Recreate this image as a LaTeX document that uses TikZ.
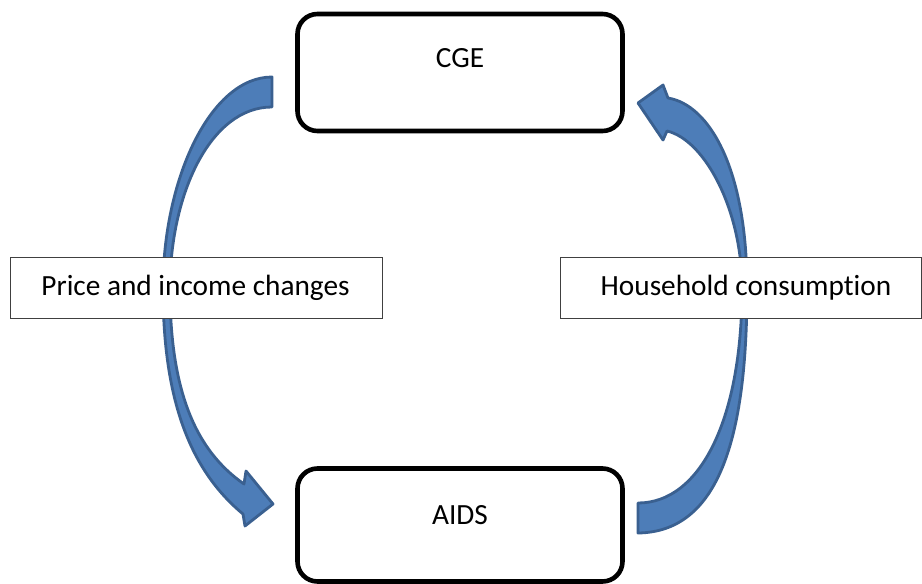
\documentclass[tikz,border=0pt]{standalone}
\usepackage{fontspec}
\setmainfont{Carlito}[Ligatures={NoCommon}]
\definecolor{arrowfill}{HTML}{4D7DB8}
\definecolor{arrowline}{HTML}{3A6090}
\begin{document}
\begin{tikzpicture}[x=1pt,y=-1pt,
  txt/.style={font=\fontsize{29.3pt}{35pt}\selectfont, inner sep=0pt, anchor=base},
  bigbox/.style={draw=black, line width=4.6pt, rounded corners=20pt, fill=white,
    minimum width=325pt, inner sep=0pt},
  labelbox/.style={draw=black!75, line width=1pt, fill=white, inner sep=0pt},
  blockarrow/.style={fill=arrowfill, draw=arrowline, line width=2.8pt, line join=round}]
\useasboundingbox (0,0) rectangle (922,584);
% boxes
\node[bigbox, minimum height=117pt] (cge) at (460,72.5) {};
\node[bigbox, minimum height=113pt] (aids) at (460,525) {};
\node[txt] (cgetext) at (460,67.5) {CGE};
\node[txt] (aidstext) at (460,524.5) {AIDS};
% curved block arrows
\draw[blockarrow] (272,77) .. controls (210,77) and (163,180) .. (163,288)
  .. controls (163,400) and (190,470) .. (243,514) -- (245,526) -- (273,504)
  -- (246,471) -- (244,484) .. controls (195,450) and (170,390) .. (170,288)
  .. controls (170,195) and (210,107) .. (272,107) -- cycle;
\draw[blockarrow] (638,533) .. controls (718,532) and (747,440) .. (747,288)
  .. controls (747,170) and (710,105) .. (668,98) -- (663,85) -- (638,103)
  -- (663,140) -- (667,131) .. controls (705,140) and (742,210) .. (742,288)
  .. controls (742,420) and (700,503) .. (638,503) -- cycle;
% label boxes
\node[labelbox, minimum width=372pt, minimum height=61pt] (left) at (196,287.7) {};
\node[labelbox, minimum width=361.5pt, minimum height=61pt] (right) at (740.75,287.7) {};
\node[txt] (lefttext) at (195.5,295.5) {Price and income changes};
\node[txt] (righttext) at (746,295.5) {Household consumption};
\end{tikzpicture}
\end{document}
